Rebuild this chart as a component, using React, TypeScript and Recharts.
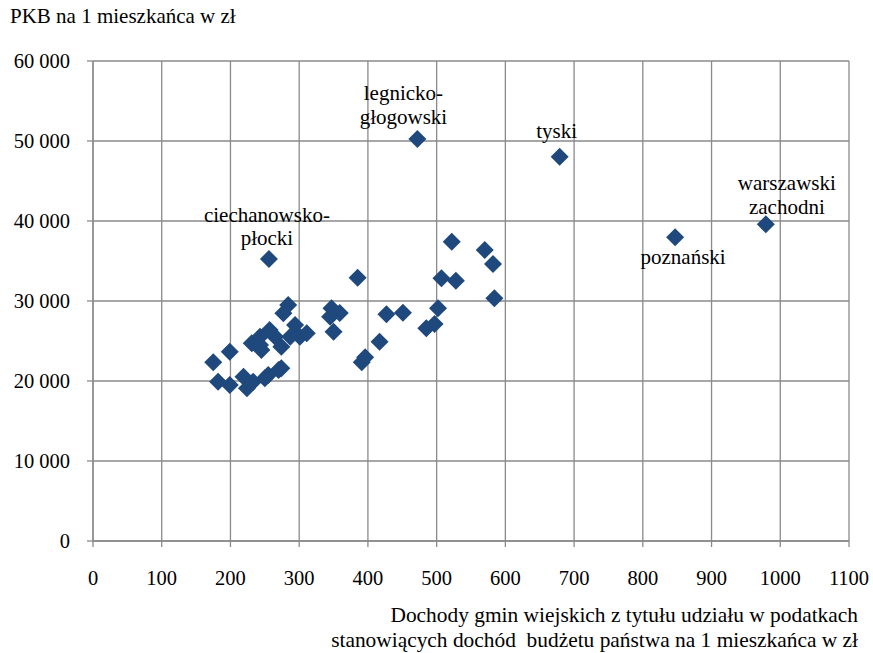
import { ScatterChart, Scatter, XAxis, YAxis, CartesianGrid, ZAxis } from "recharts";

// dochody gmin wiejskich (zł / mieszkańca)
const income = [
  175, 199, 182, 199, 219, 224, 233, 231, 245, 255, 274, 265, 250, 270,
  284, 277, 347, 345, 350, 294, 311, 301, 257, 243, 359, 287, 274, 243,
  385, 522, 570, 582, 507, 528, 584, 427, 451, 502, 497, 485, 417, 396, 391,
  472, 679, 256, 847, 979,
];

// PKB na 1 mieszkańca (zł)
const gdp = [
  22340, 23660, 19910, 19500, 20540, 19090, 19910, 24710, 23880, 20750, 21590, 25540, 20340, 21380,
  29500, 28460, 29090, 28040, 26160, 27000, 25960, 25540, 26380, 25540, 28500, 25540, 24290, 24500,
  32910, 37410, 36375, 34625, 32840, 32540, 30340, 28340, 28540, 29090, 27125, 26590, 24910, 22960, 22340,
  50250, 48040, 35250, 37960, 39580,
];

// podpisy wybranych podregionów (indeksy w tablicach powyżej)
const subregionNames: Record<number, string[]> = {
  43: ["legnicko-", "głogowski"],
  44: ["tyski"],
  45: ["ciechanowsko-", "płocki"],
  46: ["poznański"],
  47: ["warszawski", "zachodni"],
};

const xTicks = [0, 100, 200, 300, 400, 500, 600, 700, 800, 900, 1000, 1100];
const yTicks = [0, 10000, 20000, 30000, 40000, 50000, 60000];

const yTitle = "PKB na 1 mieszkańca w zł";
const xTitle = [
  "Dochody gmin wiejskich z tytułu udziału w podatkach",
  "stanowiących dochód  budżetu państwa na 1 mieszkańca w zł",
];

const data = income.map((x, i) => ({ x, y: gdp[i], label: subregionNames[i] || null }));

// przesunięcia podpisów względem punktu
const LABEL_POS: Record<string, { dx: number; dy: number[] }> = {
  "legnicko-": { dx: -14, dy: [-46, -22] },
  tyski: { dx: -3, dy: [-26] },
  "ciechanowsko-": { dx: -2, dy: [-44, -21] },
  "poznański": { dx: 8, dy: [20] },
  warszawski: { dx: 21, dy: [-41, -17] },
};

const FONT = "'Liberation Serif', 'Times New Roman', serif";
const BLUE = "#1F497D";
const GRID = "#8a8a8a";

const fmtY = (v: number) => String(v).replace(/\B(?=(\d{3})+(?!\d))/g, " ");

function Diamond(props: any) {
  const { cx, cy, payload } = props;
  const r = 9;
  const lines: string[] | null = payload && payload.label;
  const pos = lines ? LABEL_POS[lines[0]] : null;
  return (
    <g>
      <polygon
        points={`${cx},${cy - r} ${cx + r},${cy} ${cx},${cy + r} ${cx - r},${cy}`}
        fill={BLUE}
      />
      {lines && pos &&
        lines.map((t, i) => (
          <text
            key={i}
            x={cx + pos.dx}
            y={cy + pos.dy[i]}
            textAnchor="middle"
            dominantBaseline="central"
            fontFamily={FONT}
            fontSize={21}
            fill="#000"
          >
            {t}
          </text>
        ))}
    </g>
  );
}

export default function App() {
  return (
    <div style={{ position: "absolute", left: 0, top: 0, width: 873, height: 653, background: "#fff", fontFamily: FONT }}>
      <div style={{ position: "absolute", left: 10, top: 4, fontSize: 21, lineHeight: "24px", color: "#000" }}>
        {yTitle}
      </div>
      <ScatterChart width={873} height={653} margin={{ top: 61, right: 24, left: 0, bottom: 0 }}>
        <CartesianGrid stroke={GRID} strokeWidth={1.3} />
        <XAxis
          type="number"
          dataKey="x"
          domain={[0, 1100]}
          ticks={xTicks}
          interval={0}
          height={112}
          stroke={GRID}
          strokeWidth={1.3}
          tickSize={6}
          tickMargin={23}
          tick={{ fill: "#000", fontSize: 20.5, fontFamily: FONT }}
        />
        <YAxis
          type="number"
          dataKey="y"
          domain={[0, 60000]}
          ticks={yTicks}
          interval={0}
          width={93}
          stroke={GRID}
          strokeWidth={1.3}
          tickSize={6}
          tickMargin={17}
          tickFormatter={fmtY}
          tick={{ fill: "#000", fontSize: 20.5, fontFamily: FONT }}
        />
        <ZAxis range={[160, 160]} />
        <Scatter data={data} fill={BLUE} shape={Diamond} isAnimationActive={false} />
      </ScatterChart>
      <div
        style={{
          position: "absolute",
          right: 15,
          top: 603,
          fontSize: 21.4,
          lineHeight: "25px",
          textAlign: "right",
          whiteSpace: "pre",
          color: "#000",
        }}
      >
        {xTitle[0]}
        <br />
        {xTitle[1]}
      </div>
    </div>
  );
}
